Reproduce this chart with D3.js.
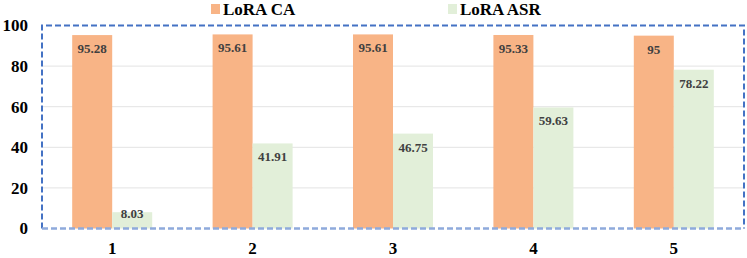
<!DOCTYPE html>
<html>
<head>
<meta charset="utf-8">
<script src="https://cdn.jsdelivr.net/npm/d3@7"></script>
<style>
  body { margin: 0; background: #fff; }
  text { font-family: "Liberation Serif", "Times New Roman", serif; font-weight: bold; }
</style>
</head>
<body>
<svg id="chart" width="747" height="258"></svg>
<script>
const categories = ["1", "2", "3", "4", "5"];
const caValues = [95.28, 95.61, 95.61, 95.33, 95];
const asrValues = [8.03, 41.91, 46.75, 59.63, 78.22];
const seriesNames = ["LoRA CA", "LoRA ASR"];
const yTicks = [0, 20, 40, 60, 80, 100];

const colors = ["#f8b486", "#e2efd9"];

const svg = d3.select("#chart");
const plotL = 42, plotR = 744, plotT = 25.5, plotB = 228.5;

const x = d3.scaleBand().domain(categories).range([plotL, plotR]).paddingInner(0).paddingOuter(0);
const y = d3.scaleLinear().domain([0, 100]).range([plotB, plotT]);
const barW = 40;

// grid
svg.append("g").selectAll("line")
  .data(yTicks.filter(d => d > 0 && d < 100))
  .join("line")
  .attr("x1", plotL).attr("x2", plotR)
  .attr("y1", d => y(d)).attr("y2", d => y(d))
  .attr("stroke", "#e3e3e3").attr("stroke-width", 1);

const data = categories.map((c, i) => ({ c, vals: [caValues[i], asrValues[i]] }));

const groups = svg.append("g").selectAll("g")
  .data(data).join("g")
  .attr("transform", d => `translate(${x(d.c) + x.bandwidth() / 2 - barW},0)`);

groups.selectAll("rect")
  .data(d => d.vals)
  .join("rect")
  .attr("x", (d, i) => i * barW)
  .attr("y", d => y(d))
  .attr("width", barW)
  .attr("height", d => y(0) - y(d))
  .attr("fill", (d, i) => colors[i]);

// labels sit inside the bar top; short bars keep them near the middle
groups.selectAll("text.val")
  .data(d => d.vals)
  .join("text")
  .attr("class", "val")
  .attr("x", (d, i) => i * barW + barW / 2)
  .attr("y", d => Math.min(y(d) + 18, (y(d) + y(0)) / 2 - 2))
  .attr("text-anchor", "middle")
  .attr("font-size", 13)
  .attr("fill", "#404040")
  .text(d => d);

// frame (dashed)
svg.append("path")
  .attr("d", `M${plotL},${plotB} L${plotL},${plotT} L${plotR},${plotT} L${plotR},${plotB}`)
  .attr("fill", "none")
  .attr("stroke", "#4472c4")
  .attr("stroke-width", 2)
  .attr("stroke-dasharray", "6,3");
svg.append("line")
  .attr("x1", plotL).attr("x2", plotR)
  .attr("y1", plotB).attr("y2", plotB)
  .attr("stroke", "#8faadc")
  .attr("stroke-width", 2.5)
  .attr("stroke-dasharray", "6,3");

// y axis
const yAxis = d3.axisLeft(y).tickValues(yTicks).tickSize(0).tickPadding(0);
const yg = svg.append("g").attr("transform", `translate(28,0)`).call(yAxis);
yg.select(".domain").remove();
yg.selectAll("text").attr("font-size", 17).attr("fill", "#000")
  .attr("font-family", "Liberation Serif").attr("font-weight", "bold");

// x axis
const xAxis = d3.axisBottom(x).tickSize(0).tickPadding(0);
const xg = svg.append("g").attr("transform", `translate(0,242)`).call(xAxis);
xg.select(".domain").remove();
xg.selectAll("text").attr("font-size", 17).attr("fill", "#000")
  .attr("font-family", "Liberation Serif").attr("font-weight", "bold");

// legend
const legendX = [211, 448];
const lg = svg.append("g").selectAll("g")
  .data(seriesNames).join("g")
  .attr("transform", (d, i) => `translate(${legendX[i]},0)`);
lg.append("rect").attr("x", 0).attr("y", 4).attr("width", 9).attr("height", 10)
  .attr("fill", (d, i) => colors[i]);
lg.append("text").attr("x", 12).attr("y", 15)
  .attr("font-size", 17).attr("fill", "#000")
  .text(d => d);
</script>
</body>
</html>
